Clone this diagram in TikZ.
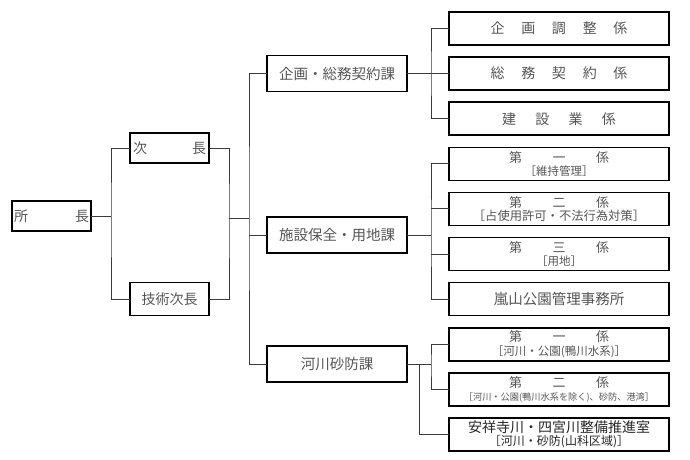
\documentclass[tikz,border=0pt]{standalone}
\usepackage{fontspec}
\setmainfont{Noto Sans CJK JP}
\usetikzlibrary{positioning}
\definecolor{txtgray}{HTML}{555555}
\definecolor{linegray}{HTML}{3A3A3A}
\def\Small{\fontsize{11.5}{12.5}\selectfont}

\begin{document}
\begin{tikzpicture}[x=1pt,y=-1pt,% one unit = one pixel, origin top left
			every node/.style={
				align=center,  		% "\\" splits the two-line boxes
				inner sep=0pt,
				outer sep=0pt,
				text=txtgray,
				draw=black,
				line width=1.6pt
			},
			head/.style={minimum width=79pt,minimum height=30pt,font=\fontsize{14}{16}\selectfont},
			section/.style={minimum width=140pt,minimum height=36pt,font=\fontsize{14.5}{16}\selectfont},
			unit/.style={minimum width=220pt,minimum height=33pt,font=\fontsize{14}{15}\selectfont},
			twoline/.style={font=\fontsize{13}{13.5}\selectfont},
			link/.style={draw=linegray,line width=0.9pt}
		]
		\fill[white] (0,0) rectangle (690,460);
		\useasboundingbox (0,0) rectangle (690,460);
		% left column
		\node[head](Shocho) at (51.5,216){\makebox[75pt]{所\hfill 長}};
		\node[head](Jicho) at (169.5,148){\makebox[73pt]{次\hfill 長}};
		\node[head,minimum height=33pt](Gijutsu) at (169.5,299){技術次長};
		% sections
		\node[section](Kikaku) at (337,73.6){企画・総務契約課};
		\node[section](Shisetsu) at (337,235){施設保全・用地課};
		\node[section](Kasen) at (337,364){河川砂防課};
		% units
		\node[unit](K1) at (559,28.5){\makebox[137pt]{企\hfill 画\hfill 調\hfill 整\hfill 係}};
		\node[unit](K2)[below=12.1pt of K1]{\makebox[137pt]{総\hfill 務\hfill 契\hfill 約\hfill 係}};
		\node[unit](K3)[below=12.1pt of K2]{\makebox[114pt]{建\hfill 設\hfill 業\hfill 係}};
		\node[unit,twoline](S1)[below=12.1pt of K3]{\makebox[100pt]{第\hfill 一\hfill 係}\\{\Small ［維持管理］}};
		\node[unit,twoline](S2)[below=12.1pt of S1]{\makebox[100pt]{第\hfill 二\hfill 係}\\{\fontsize{12.3}{13}\selectfont ［占使用許可・不法行為対策］}};
		\node[unit,twoline](S3)[below=12.1pt of S2]{\makebox[100pt]{第\hfill 三\hfill 係}\\{\Small ［用地］}};
		\node[unit,font=\fontsize{14.5}{16}\selectfont](S4)[below=12.1pt of S3]{嵐山公園管理事務所};
		\node[unit,twoline](R1)[below=12.1pt of S4]{\makebox[100pt]{第\hfill 一\hfill 係}\\{\Small ［河川・公園(鴨川水系)］}};
		\node[unit,twoline](R2)[below=12.1pt of R1]{\makebox[100pt]{第\hfill 二\hfill 係}\\{\fontsize{9.2}{10}\selectfont ［河川・公園(鴨川水系を除く)、砂防、港湾］}};
		\node[unit,twoline,text=black!85](R3)[below=12.1pt of R2]{{\fontsize{14}{15}\selectfont 安祥寺川・四宮川整備推進室}\\{\fontsize{12}{12.5}\selectfont ［河川・砂防(山科区域)］}};
		% junctions
		\coordinate (ShochoBus) at (111,216);
		\coordinate (JichoBus) at (229,218);
		\coordinate (KaBus) at (249,218);
		\coordinate (KBus) at (431,73.6);
		\coordinate (SBus) at (431,235);
		\coordinate (RBus) at (431,364);
		\coordinate (RBus2) at (419,364);
		\draw[link] (Shocho.east) -- (ShochoBus);
		\draw[link] (Jicho.west) -| (ShochoBus) |- (Gijutsu.west);
		\draw[link] (Jicho.east) -| (JichoBus) |- (Gijutsu.east);
		\draw[link] (JichoBus) -- (KaBus);
		\draw[link] (Kikaku.west) -| (KaBus) |- (Kasen.west);
		\draw[link] (Shisetsu.west) -- (Shisetsu.west -| KaBus);
		\draw[link] (Kikaku.east) -- (Kikaku.east -| K2.west);
		\draw[link] (K1.west) -| (KBus) |- (K3.west);
		\draw[link] (Shisetsu.east) -- (SBus);
		\draw[link] (S1.west) -| (SBus) |- (S4.west);
		\draw[link] (S2.west) -- (S2.west -| SBus);
		\draw[link] (S3.west) -- (S3.west -| SBus);
		\draw[link] (Kasen.east) -- (RBus);
		\draw[link] (R1.west) -| (RBus) |- (R2.west);
		\draw[link] (RBus2) |- (R3.west);
	\end{tikzpicture}
\end{document}
